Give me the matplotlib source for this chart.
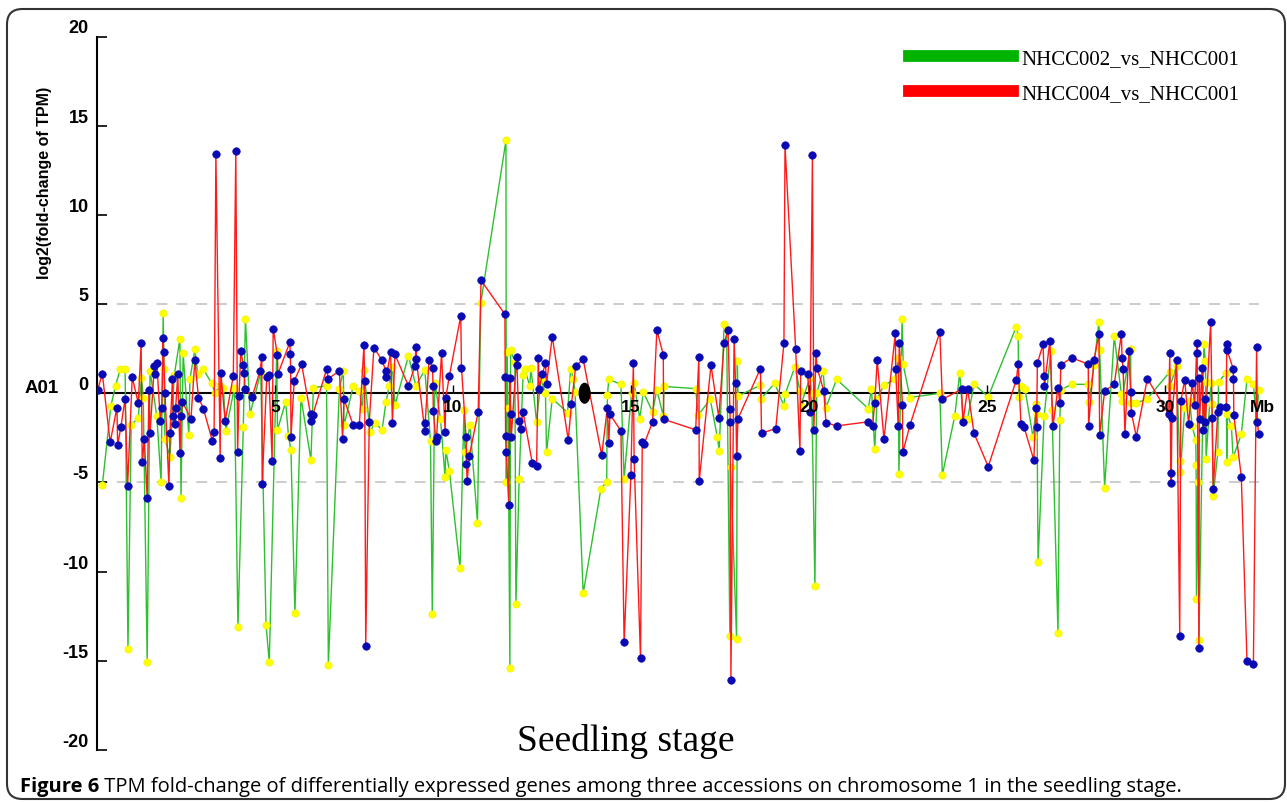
import matplotlib
matplotlib.use("Agg")
import matplotlib.pyplot as plt
from matplotlib.patches import FancyBboxPatch, Ellipse
from matplotlib.lines import Line2D

# NHCC002_vs_NHCC001 (green line, yellow dots): position (Mb), log2 fold-change
green_pos = [0.15, 0.39, 0.52, 0.65, 0.79, 0.87, 0.96, 1.16, 1.25, 1.30,
             1.41, 1.49, 1.68, 1.80, 1.86, 1.88, 1.91, 2.05, 2.17, 2.33,
             2.36, 2.42, 2.58, 2.61, 2.75, 2.83, 2.99, 3.22, 3.31, 3.46,
             3.55, 3.62, 3.86, 3.96, 4.11, 4.17, 4.30, 4.60, 4.75, 4.84,
             5.05, 5.07, 5.30, 5.38, 5.45, 5.56, 5.73, 6.01, 6.08, 6.45,
             6.50, 6.81, 6.92, 6.94, 7.20, 7.37, 7.46, 7.50, 7.67, 7.80,
             8.01, 8.12, 8.21, 8.30, 8.37, 8.75, 8.96, 9.21, 9.37, 9.42,
             9.49, 9.65, 9.78, 9.80, 9.90, 10.20, 10.31, 10.34, 10.48, 10.69,
             10.78, 11.49, 11.50, 11.52, 11.55, 11.60, 11.62, 11.74, 11.77, 11.86,
             11.97, 12.02, 12.16, 12.19, 12.35, 12.47, 12.60, 12.63, 12.79, 13.22,
             13.31, 13.38, 13.43, 13.66, 14.16, 14.32, 14.34, 14.38, 14.72, 14.81,
             15.02, 15.09, 15.25, 15.35, 15.61, 15.73, 15.91, 15.93, 16.82, 16.89,
             17.23, 17.43, 17.48, 17.62, 17.69, 17.78, 17.80, 17.97, 17.99, 18.01,
             18.64, 18.66, 19.04, 19.30, 19.33, 19.61, 19.75, 19.77, 20.03, 20.08,
             20.17, 20.22, 20.40, 20.48, 20.78, 21.67, 21.76, 21.85, 21.92, 22.11,
             22.42, 22.51, 22.53, 22.62, 22.65, 22.84, 23.68, 23.75, 24.10, 24.24,
             24.33, 24.46, 24.64, 25.04, 25.83, 25.88, 25.90, 25.96, 26.07, 26.30,
             26.39, 26.41, 26.44, 26.61, 26.80, 26.83, 27.00, 27.05, 27.08, 27.38,
             27.83, 27.87, 28.01, 28.15, 28.17, 28.31, 28.58, 28.78, 28.79, 29.04,
             29.05, 29.20, 29.51, 30.14, 30.15, 30.33, 30.42, 30.44, 30.56, 30.70,
             30.77, 30.87, 30.88, 30.89, 30.93, 30.96, 31.10, 31.14, 31.15, 31.16,
             31.30, 31.33, 31.36, 31.49, 31.51, 31.73, 31.74, 31.76, 31.87, 31.92,
             32.15, 32.31, 32.49, 32.58, 32.64]
green_fc = [-5.15, -0.71, 0.41, 1.34, 1.34, -14.34, -1.79, -1.36, 0.88, -0.24,
            -15.05, 1.25, -1.27, -4.97, 4.52, 1.34, -2.58, -3.55, 1.0, 3.06,
            -5.85, 2.24, -2.35, 0.78, 2.46, 1.06, 1.34, 0.56, 0.04, 0.41,
            0.32, -2.11, 0.32, -13.13, -1.92, 4.18, -1.18, 1.17, -13.0, -15.09,
            2.37, -2.05, -0.49, -2.39, -3.2, -12.33, -0.24, -3.72, 0.32, 0.41,
            -15.24, 0.26, 1.25, -1.8, 0.41, 0.13, -0.9, 1.29, -2.2, -1.64,
            -2.05, -0.49, 0.4, 1.49, -0.67, 2.09, 0.41, 1.31, -2.67, -12.38,
            0.6, -1.42, -4.72, -3.18, -4.35, -9.82, -0.96, -3.32, -1.79, -7.25,
            5.04, 14.17, -5.0, 2.31, -0.8, -15.42, 2.43, 1.75, -11.82, -4.82,
            1.0, 1.34, 0.4, 1.44, -1.6, 0.78, 0.0, -3.32, -0.3, -1.08,
            1.38, 0.82, 0.07, -11.22, -5.34, -4.97, -0.11, 0.78, 0.5, -4.78,
            0.04, 0.56, -1.42, 0.07, -1.05, 0.19, -1.27, 0.38, 0.26, -1.23,
            -0.34, -2.48, -3.23, 3.87, 3.59, -13.6, -4.11, -13.78, 1.81, -0.15,
            0.45, -0.3, 0.56, -0.71, -0.06, 1.49, 0.13, -0.71, 0.88, 0.0,
            -10.83, 0.0, 1.25, -0.8, 0.78, -0.86, 0.26, -3.14, -0.3, 0.45,
            0.78, 2.0, -4.54, 4.15, 1.62, -0.24, 0.0, -4.59, -1.27, 1.16,
            -1.42, -1.42, 0.5, -0.19, 3.74, 3.21, -0.19, 0.41, 0.26, -2.48,
            -0.62, -1.18, -9.45, -1.3, 2.37, -0.93, -13.45, -1.49, 0.19, 0.5,
            0.5, -0.49, 1.57, 4.0, 2.43, -5.29, 3.21, -0.04, -0.43, 2.5,
            -0.56, -0.56, -0.3, 1.19, 0.41, 1.53, -3.79, -4.41, -0.8, -0.43,
            -1.86, -2.61, -4.03, -11.54, -5.0, -13.82, 2.74, 1.81, 0.64, -3.7,
            0.6, -0.62, -5.75, -3.32, 0.63, 1.16, -3.88, -1.18, -1.83, -3.6,
            -2.3, 0.78, 0.5, -1.55, 0.19]

# NHCC004_vs_NHCC001 (red line, blue dots)
red_pos = [0.02, 0.15, 0.37, 0.56, 0.58, 0.67, 0.79, 0.86, 0.99, 1.16,
           1.24, 1.27, 1.33, 1.41, 1.46, 1.49, 1.61, 1.63, 1.68, 1.78,
           1.82, 1.86, 1.87, 1.91, 2.02, 2.05, 2.12, 2.14, 2.19, 2.21,
           2.27, 2.33, 2.36, 2.40, 2.64, 2.75, 2.85, 2.99, 3.24, 3.29,
           3.34, 3.46, 3.48, 3.60, 3.83, 3.90, 3.95, 3.99, 4.04, 4.11,
           4.14, 4.16, 4.36, 4.58, 4.63, 4.64, 4.77, 4.83, 4.92, 4.95,
           5.07, 5.08, 5.42, 5.43, 5.44, 5.45, 5.54, 5.75, 6.00, 6.01,
           6.06, 6.45, 6.50, 6.81, 6.90, 6.94, 7.20, 7.37, 7.50, 7.52,
           7.55, 7.65, 7.78, 8.00, 8.12, 8.13, 8.25, 8.30, 8.37, 8.75,
           8.93, 8.96, 8.97, 9.21, 9.22, 9.33, 9.43, 9.44, 9.45, 9.52,
           9.54, 9.68, 9.78, 9.80, 9.90, 10.22, 10.24, 10.37, 10.38, 10.40,
           10.46, 10.71, 10.79, 11.46, 11.47, 11.48, 11.50, 11.57, 11.60, 11.62,
           11.64, 11.79, 11.80, 11.85, 11.90, 11.97, 12.23, 12.35, 12.40, 12.42,
           12.51, 12.60, 12.63, 12.79, 13.24, 13.33, 13.45, 13.66, 14.18, 14.34,
           14.38, 14.41, 14.72, 14.81, 15.00, 15.07, 15.09, 15.27, 15.32, 15.37,
           15.61, 15.73, 15.91, 15.92, 16.82, 16.91, 16.92, 17.25, 17.47, 17.62,
           17.73, 17.78, 17.79, 17.81, 17.90, 17.94, 17.97, 18.01, 18.64, 18.67,
           19.07, 19.30, 19.33, 19.63, 19.75, 19.77, 19.97, 20.03, 20.10, 20.14,
           20.20, 20.23, 20.42, 20.48, 20.78, 21.67, 21.79, 21.85, 21.92, 22.11,
           22.43, 22.44, 22.51, 22.54, 22.63, 22.64, 22.84, 23.68, 23.75, 24.29,
           24.33, 24.46, 24.64, 25.04, 25.83, 25.88, 25.96, 26.05, 26.32, 26.38,
           26.40, 26.42, 26.58, 26.61, 26.62, 26.77, 26.86, 27.00, 27.05, 27.08,
           27.38, 27.85, 27.86, 28.01, 28.15, 28.17, 28.31, 28.58, 28.78, 28.80,
           28.83, 28.88, 28.99, 29.04, 29.06, 29.20, 29.51, 30.11, 30.14, 30.17,
           30.18, 30.20, 30.33, 30.42, 30.45, 30.56, 30.67, 30.77, 30.84, 30.90,
           30.91, 30.96, 30.97, 30.98, 31.05, 31.08, 31.12, 31.14, 31.29, 31.33,
           31.36, 31.49, 31.56, 31.73, 31.74, 31.75, 31.92, 31.93, 31.94, 32.15,
           32.31, 32.49, 32.58, 32.60, 32.64]
red_fc = [0.2, 1.1, -2.76, -0.8, -2.9, -1.9, -0.3, -5.2, 0.9, -0.56,
          2.8, -3.85, -2.58, -5.9, 0.2, -2.24, 1.5, 1.1, 1.7, -1.55,
          -0.8, 3.1, 2.3, 0.04, -5.2, -2.24, 0.78, -1.3, -1.74, -0.8,
          1.06, -3.36, -1.3, -0.49, -1.42, 1.87, -0.24, -0.86, -2.67, -2.2,
          13.4, -3.64, 1.12, -1.55, 0.97, 13.57, -3.32, -0.15, 2.37, 1.57,
          1.12, 0.22, -0.19, 1.25, 2.03, -5.1, 0.92, 1.0, -3.79, 3.62,
          2.13, 1.06, 2.87, 2.18, 1.34, -2.48, 0.69, 1.62, -1.18, -1.55,
          -1.23, 1.34, 0.82, 1.25, -2.58, -0.34, -1.79, -1.79, 2.69, 0.69,
          -14.15, -1.6, 2.56, 1.87, 1.25, 0.93, 2.31, -1.68, 2.18, 0.41,
          1.53, 2.61, 1.9, -2.11, -1.68, 1.87, 1.44, 0.38, -0.99, -2.67,
          -2.48, 2.24, -2.17, -0.24, 0.97, 4.33, 1.44, -2.48, -3.98, -4.91,
          -3.51, -1.05, 6.33, 4.43, 0.93, -2.39, -3.32, -6.27, 0.88, -1.18,
          -2.45, 2.05, 1.6, -1.55, -1.98, -1.05, -3.92, -4.07, 2.0, 0.22,
          1.06, 1.68, 0.5, 3.18, -2.61, -0.62, 1.53, 1.9, -3.47, -0.8,
          -2.8, -1.18, -2.11, -13.97, -4.59, 1.72, -3.66, -14.86, -2.76, -2.86,
          -1.6, 3.55, 2.15, -1.46, -2.05, 2.05, -4.91, 1.57, -1.36, 2.84,
          3.55, -0.9, -1.6, -16.06, 3.06, 0.56, -3.51, -1.42, 1.38, -2.24,
          -1.98, 2.8, 13.89, 2.46, -3.23, 1.25, 1.06, -1.05, 13.33, -2.05,
          2.28, 1.44, 0.13, -1.64, -1.83, -1.6, -1.83, -0.56, 1.87, -2.58,
          3.36, 1.34, -1.83, 2.8, -0.67, -3.32, -1.79, 3.43, -0.34, 0.22,
          -1.6, 0.26, -2.24, -4.11, 0.75, 1.62, -1.74, -1.92, -3.74, -0.8,
          -1.92, 1.68, 2.74, 0.97, 0.41, 2.93, -1.83, 0.32, -0.56, 1.57,
          2.0, 1.62, -1.83, 1.87, 3.31, -2.35, 0.13, 0.5, 3.31, 2.0,
          1.36, -2.3, 2.37, 0.07, -1.08, -2.43, 0.82, -1.18, 2.28, -4.48,
          -5.04, -1.36, 1.87, -13.63, -0.43, 0.75, -1.74, 0.6, -0.67, 2.8,
          2.28, -14.3, 0.88, -1.46, 1.44, -2.05, -0.3, -1.6, 4.0, -1.36,
          -5.38, -1.05, -0.75, -0.75, 2.74, 2.43, 1.38, 0.78, -1.23, -4.67,
          -15.03, -15.2, 2.61, -1.6, -2.3]

assert len(green_pos) == len(green_fc)
assert len(red_pos) == len(red_fc)

series_names = ["NHCC002_vs_NHCC001", "NHCC004_vs_NHCC001"]
y_ticks = [-20, -15, -10, -5, 0, 5, 10, 15, 20]
x_ticks = [5, 10, 15, 20, 25, 30]
chrom_end = 32.65
centromere = 13.7
threshold = 5

W, H = 1287, 803
fig = plt.figure(figsize=(W / 100, H / 100), dpi=100)
ax = fig.add_axes([97 / W, 52 / H, 1171 / W, 713.5 / H])

narrow = ["Liberation Sans Narrow", "Liberation Sans", "DejaVu Sans"]
serif = ["Liberation Serif", "DejaVu Serif"]
caption_font = ["Open Sans", "DejaVu Sans"]

# threshold lines and chromosome axis
ax.hlines([threshold, -threshold], 0, chrom_end, colors="#c8c8c8",
          linestyles=(0, (6, 5)), linewidth=1.3, zorder=1)
ax.hlines(0, 0, chrom_end, colors="black", linewidth=1.5, zorder=2)

ax.plot(green_pos, green_fc, color="#2ec02e", linewidth=1.0, zorder=3,
        marker="o", markersize=5.2, markerfacecolor="#ffff00",
        markeredgecolor="#f2f200", markeredgewidth=0.5)
ax.plot(red_pos, red_fc, color="#ff1a1a", linewidth=1.0, zorder=4,
        marker="o", markersize=5.4, markerfacecolor="#0a0ab4",
        markeredgecolor="#0a0ab4", markeredgewidth=0.5)

ax.add_patch(Ellipse((centromere, 0), 0.3, 1.1, color="black", zorder=6))

# Mb ticks on the chromosome line
ax.vlines(x_ticks, 0, 0.45, colors="black", linewidth=1.0, zorder=5)
for xt in x_ticks:
    ax.text(xt, -0.35, str(xt), ha="center", va="top", fontsize=12.5,
            fontweight="bold", family=narrow, zorder=7)
ax.text(chrom_end + 0.1, -0.35, "Mb", ha="center", va="top", fontsize=12.5,
        fontweight="bold", family=narrow, zorder=7)

ax.set_xlim(0, 32.9)
ax.set_ylim(-20, 20)
ax.set_xticks([])
ax.set_yticks(y_ticks)
ax.set_yticklabels([str(v) for v in y_ticks], fontweight="bold",
                   fontsize=13, family=narrow, va="bottom")
ax.tick_params(axis="y", direction="in", length=7, width=1.2, pad=6)
for s in ["top", "right", "bottom"]:
    ax.spines[s].set_visible(False)
ax.spines["left"].set_linewidth(1.5)

fig.text(25 / W, 1 - 389 / H, "A01", fontsize=13.5, fontweight="bold",
         family=narrow, va="center", ha="left")
fig.text(45 / W, 1 - 183 / H, "log2(fold-change of TPM)", rotation=90,
         fontsize=11.5, fontweight="bold", family=narrow,
         ha="center", va="center")

fig.text(626 / W, 1 - 751 / H, "Seedling stage", ha="center",
         va="baseline", fontsize=27, family=serif)

handles = [Line2D([], [], color="#00b400", linewidth=8.5),
           Line2D([], [], color="#ff0000", linewidth=8.5)]
fig.legend(handles, series_names, loc="upper left",
           bbox_to_anchor=(890 / W, 1 - 31 / H), frameon=False,
           prop={"family": serif, "size": 15}, handlelength=5.0,
           handletextpad=0.4, labelspacing=0.72)

# rounded frame around the figure
frame = FancyBboxPatch((7 / W, 3 / H), 1278 / W, 790 / H,
                       boxstyle="round,pad=0,rounding_size=0.012",
                       mutation_aspect=W / H, transform=fig.transFigure,
                       facecolor="none", edgecolor="#333333", linewidth=1.5)
fig.patches.append(frame)

cap = fig.text(20 / W, 11 / H, "Figure 6", fontsize=14.5, fontweight="bold",
               family=caption_font, va="baseline")
ax.annotate(" TPM fold-change of differentially expressed genes among three "
            "accessions on chromosome 1 in the seedling stage.",
            xy=(1, 0), xycoords=cap, va="bottom", ha="left", fontsize=14.5,
            family=caption_font, annotation_clip=False)

fig.savefig("out.png", dpi=100)
